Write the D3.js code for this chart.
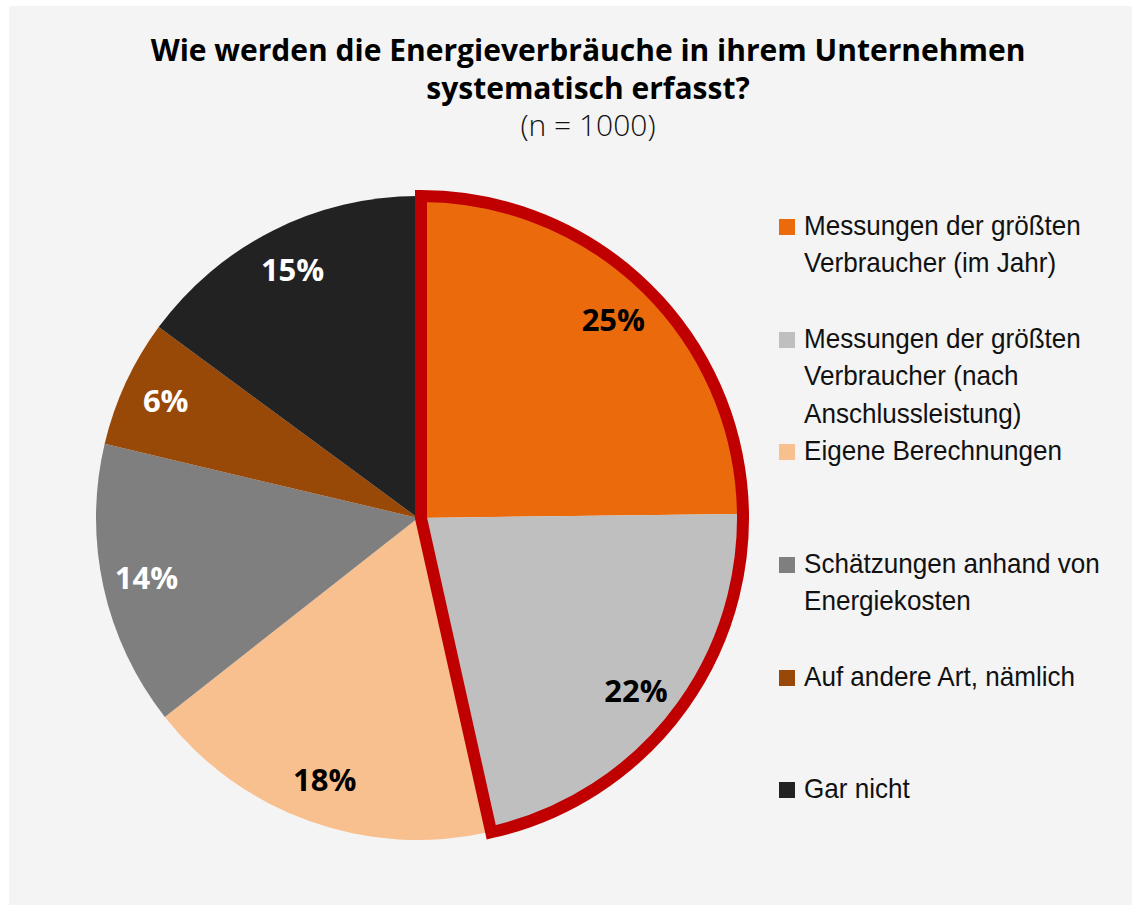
<!DOCTYPE html>
<html>
<head>
<meta charset="utf-8">
<script src="https://cdn.jsdelivr.net/npm/d3@7"></script>
<style>
  body { margin: 0; background: #ffffff; }
  .chart svg { display: block; }
</style>
</head>
<body>
<div class="chart"></div>
<script>
const width = 1132;
const height = 905;

// data
const categories = [
	'Messungen der größten Verbraucher (im Jahr)',
	'Messungen der größten Verbraucher (nach Anschlussleistung)',
	'Eigene Berechnungen',
	'Schätzungen anhand von Energiekosten',
	'Auf andere Art, nämlich',
	'Gar nicht'
];
const values = [24.8, 21.7, 17.9, 14.3, 6.4, 14.9];
const legendLines = [
	['Messungen der größten', 'Verbraucher (im Jahr)'],
	['Messungen der größten', 'Verbraucher (nach', 'Anschlussleistung)'],
	['Eigene Berechnungen'],
	['Schätzungen anhand von', 'Energiekosten'],
	['Auf andere Art, nämlich'],
	['Gar nicht']
];
const highlighted = [0, 1];
const colors = ['#EA6A0C', '#BFBFBF', '#F9C08F', '#7F7F7F', '#984807', '#222222'];
const labelColors = ['#000000', '#000000', '#000000', '#ffffff', '#ffffff', '#ffffff'];

const cx = 418, cy = 518, radius = 322;

const svg = d3.select('.chart').append('svg')
	.attr('width', width)
	.attr('height', height);

svg.append('rect')
	.attr('x', 9)
	.attr('y', 6)
	.attr('width', width - 9)
	.attr('height', height - 6)
	.attr('fill', '#F4F4F4');

// title
const title = svg.append('text')
	.attr('text-anchor', 'middle')
	.attr('font-family', '"Open Sans", sans-serif')
	.attr('fill', '#000');
title.append('tspan')
	.attr('x', 588).attr('y', 61)
	.attr('font-size', 30).attr('font-weight', 'bold')
	.text('Wie werden die Energieverbräuche in ihrem Unternehmen');
title.append('tspan')
	.attr('x', 588).attr('y', 99)
	.attr('font-size', 30).attr('font-weight', 'bold')
	.text('systematisch erfasst?');
title.append('tspan')
	.attr('x', 588).attr('y', 136)
	.attr('font-size', 30).attr('font-weight', 300)
	.attr('fill', '#111')
	.text('(n = 1000)');

const pie = d3.pie().sort(null).value(d => d);
const arcs = pie(values);

const arc = d3.arc().innerRadius(0).outerRadius(radius);
const labelArc = d3.arc().innerRadius(278).outerRadius(278);

const g = svg.append('g')
	.attr('transform', `translate(${cx},${cy})`);

g.selectAll('.slice')
	.data(arcs)
	.enter()
	.append('path')
	.attr('class', 'slice')
	.attr('d', arc)
	.attr('fill', (d, i) => colors[i]);

// red outline round the first two slices
const hiStart = arcs[highlighted[0]].startAngle;
const hiEnd = arcs[highlighted[highlighted.length - 1]].endAngle;
svg.append('path')
	.attr('transform', `translate(${cx + 3},${cy})`)
	.attr('d', d3.arc()({innerRadius: 0, outerRadius: radius, startAngle: hiStart, endAngle: hiEnd}))
	.attr('fill', 'none')
	.attr('stroke', '#C00000')
	.attr('stroke-width', 12)
	.attr('stroke-linejoin', 'miter');

g.selectAll('.label')
	.data(arcs)
	.enter()
	.append('text')
	.attr('class', 'label')
	.attr('transform', d => `translate(${labelArc.centroid(d)})`)
	.attr('text-anchor', 'middle')
	.attr('dy', '0.36em')
	.attr('font-family', '"Open Sans", sans-serif')
	.attr('font-weight', 'bold')
	.attr('font-size', 31)
	.attr('fill', (d, i) => labelColors[i])
	.text(d => Math.round(d.value) + '%');

// legend
const baselines = [235, 348, 460, 573, 686, 798];
const lineGap = 37.5;
const legendX = 804;

const legend = svg.append('g').attr('class', 'legend');

legend.selectAll('rect')
	.data(categories)
	.enter()
	.append('rect')
	.attr('x', 779)
	.attr('y', (d, i) => baselines[i] - 16)
	.attr('width', 16)
	.attr('height', 16)
	.attr('fill', (d, i) => colors[i]);

const legendText = legend.append('g');

legendText.selectAll('text')
	.data(categories)
	.enter()
	.append('text')
	.attr('font-family', '"Liberation Sans", Arial, sans-serif')
	.attr('font-size', 28)
	.attr('fill', '#111')
	.each(function(d, i) {
		const t = d3.select(this);
		legendLines[i].forEach((line, j) => {
			t.append('tspan')
				.attr('x', legendX)
				.attr('y', baselines[i] + j * lineGap)
				.text(line);
		});
	});

// the original font is a narrow one: squeeze to the same width
const probe = legendText.append('text')
	.attr('font-family', '"Liberation Sans", Arial, sans-serif')
	.attr('font-size', 28)
	.text('Messungen der größten');
const sx = 277 / probe.node().getComputedTextLength();
probe.remove();
legendText.attr('transform', `translate(${legendX},0) scale(${sx},1) translate(${-legendX},0)`);
</script>
</body>
</html>
